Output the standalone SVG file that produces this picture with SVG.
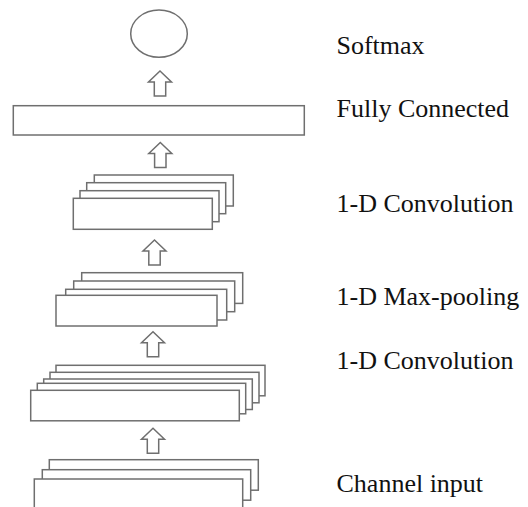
<svg xmlns="http://www.w3.org/2000/svg" width="528" height="507" viewBox="0 0 528 507">
  <style>
    .shape { fill: #ffffff; stroke: #6f6f6f; stroke-width: 1.5; }
    .label { font-family: "Liberation Serif", "Times New Roman", serif; font-size: 26px; fill: #111111; }
  </style>
  <defs>
    <path id="uparrow" d="M0,0 L11.5,11 L5.7,11 L5.7,25 L-5.7,25 L-5.7,11 L-11.5,11 Z"/>
  </defs>
  <rect width="528" height="507" fill="#ffffff"/>

  <g id="softmax">
    <ellipse class="shape" cx="159" cy="33.7" rx="28.3" ry="23.6"/>
    <text class="label" x="336.5" y="54">Softmax</text>
  </g>

  <g id="fully-connected">
    <rect class="shape" x="13.3" y="105.7" width="291" height="29.3"/>
    <text class="label" x="336.5" y="116.5">Fully Connected</text>
  </g>

  <g id="conv2">
    <rect class="shape" x="94.3" y="175" width="139" height="31"/>
    <rect class="shape" x="86.7" y="182.7" width="139" height="31"/>
    <rect class="shape" x="80" y="190.7" width="139" height="31"/>
    <rect class="shape" x="73.3" y="198.3" width="139" height="31"/>
    <text class="label" x="336.5" y="211.5">1-D Convolution</text>
  </g>

  <g id="maxpool">
    <rect class="shape" x="81.7" y="272.7" width="161" height="30.7"/>
    <rect class="shape" x="73.7" y="281" width="161" height="30.7"/>
    <rect class="shape" x="65.7" y="289.3" width="161" height="30.7"/>
    <rect class="shape" x="56" y="295.3" width="161" height="30.7"/>
    <text class="label" x="336.5" y="305">1-D Max-pooling</text>
  </g>

  <g id="conv1">
    <rect class="shape" x="56" y="365.3" width="209" height="30.5"/>
    <rect class="shape" x="50" y="372.3" width="209" height="30.5"/>
    <rect class="shape" x="43.7" y="379" width="208.6" height="30.5"/>
    <rect class="shape" x="37.3" y="383.3" width="208.4" height="30.5"/>
    <rect class="shape" x="30.7" y="390.3" width="208.6" height="30.5"/>
    <text class="label" x="336.5" y="369.3">1-D Convolution</text>
  </g>

  <g id="input">
    <rect class="shape" x="49.3" y="459.7" width="209" height="30.5"/>
    <rect class="shape" x="42.3" y="469.7" width="208.4" height="30.5"/>
    <rect class="shape" x="34.3" y="479" width="208.4" height="31"/>
    <text class="label" x="336.5" y="492">Channel input</text>
  </g>

  <g id="connectors">
    <use href="#uparrow" class="shape" x="160" y="71"/>
    <use href="#uparrow" class="shape" x="160.3" y="142.5"/>
    <use href="#uparrow" class="shape" x="154.5" y="240"/>
    <use href="#uparrow" class="shape" x="153" y="331.7"/>
    <use href="#uparrow" class="shape" x="153" y="428.3"/>
  </g>
</svg>
